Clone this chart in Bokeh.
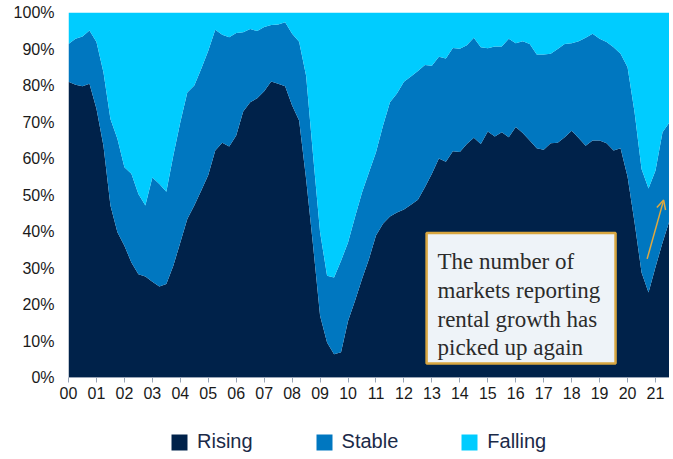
from bokeh.plotting import figure
from bokeh.layouts import column
from bokeh.models import (ColumnDataSource, Range1d, FixedTicker, PrintfTickFormatter,
                          Legend, LegendItem, BoxAnnotation, Label, Arrow, OpenHead)
from bokeh.embed import file_html
from bokeh.resources import INLINE

# quarterly observations, 2000 Q1 .. 2021 Q3
quarters = [2000 + i / 4 for i in range(87)]

rising = [81.0, 80.2, 79.8, 80.5, 73.6, 63.5, 47.1, 39.8, 36.1, 31.5, 28.3, 27.7, 26.2, 24.9, 25.6, 30.6,
          37.0, 43.4, 47.1, 51.2, 55.5, 62.2, 64.3, 63.3, 66.3, 72.9, 75.4, 76.5, 78.4, 81.1, 80.5, 79.8,
          74.5, 70.4, 54.4, 36.1, 16.9, 9.6, 6.4, 6.9, 15.5, 21.0, 27.0, 32.5, 38.9, 42.1, 44.1, 45.2,
          46.0, 47.3, 48.7, 52.1, 55.8, 60.0, 59.1, 62.0, 61.8, 64.0, 65.7, 64.0, 67.4, 66.0, 67.2, 65.8,
          68.6, 67.0, 64.9, 62.8, 62.4, 64.2, 64.3, 65.8, 67.6, 65.6, 63.5, 64.9, 64.9, 64.2, 62.2, 62.8,
          55.0, 42.5, 28.8, 23.3, 30.3, 36.9, 43.0]
stable = [10.4, 12.6, 13.6, 14.6, 18.3, 20.1, 23.7, 25.6, 21.5, 24.3, 22.0, 19.4, 28.6, 28.1, 25.3, 30.2,
          32.9, 34.7, 32.9, 33.4, 34.0, 33.1, 29.6, 29.9, 28.1, 21.7, 20.1, 18.4, 17.6, 15.5, 16.2, 17.5,
          19.7, 21.6, 28.3, 24.7, 22.9, 18.3, 21.0, 25.1, 21.5, 23.0, 23.7, 23.7, 22.8, 26.9, 31.3, 32.6,
          35.0, 35.2, 35.3, 33.5, 29.6, 27.9, 28.3, 28.3, 28.3, 27.0, 27.4, 26.5, 22.8, 24.7, 23.5, 27.0,
          23.0, 25.1, 26.5, 25.7, 26.1, 24.5, 25.7, 25.6, 24.0, 26.5, 29.6, 29.3, 27.9, 27.7, 28.3, 25.9,
          30.0, 30.2, 28.3, 28.5, 26.4, 30.3, 26.9]
falling = [8.6, 7.2, 6.6, 4.9, 8.1, 16.4, 29.2, 34.6, 42.4, 44.2, 49.7, 52.9, 45.2, 47.0, 49.1, 39.2,
           30.1, 21.9, 20.0, 15.4, 10.5, 4.7, 6.1, 6.8, 5.6, 5.4, 4.5, 5.1, 4.0, 3.4, 3.3, 2.7,
           5.8, 8.0, 17.3, 39.2, 60.2, 72.1, 72.6, 68.0, 63.0, 56.0, 49.3, 43.8, 38.3, 31.0, 24.6, 22.2,
           19.0, 17.5, 16.0, 14.4, 14.6, 12.1, 12.6, 9.7, 9.9, 9.0, 6.9, 9.5, 9.8, 9.3, 9.3, 7.2,
           8.4, 7.9, 8.6, 11.5, 11.5, 11.3, 10.0, 8.6, 8.4, 7.9, 6.9, 5.8, 7.2, 8.1, 9.5, 11.3,
           15.0, 27.3, 42.9, 48.2, 43.3, 32.8, 30.1]

series_names = ["Rising", "Stable", "Falling"]
series_colors = ["#00224A", "#0077C0", "#00CCFF"]
year_ticks = list(range(2000, 2022))
year_labels = {y: f"{y % 100:02d}" for y in year_ticks}
pct_ticks = list(range(0, 101, 10))

note_lines = ["The number of", "markets reporting", "rental growth has", "picked up again"]

source = ColumnDataSource(dict(x=quarters, Rising=rising, Stable=stable, Falling=falling))

p = figure(width=669, height=410, output_backend="svg", toolbar_location=None,
           x_range=Range1d(2000, 2021.5), y_range=Range1d(0, 100),
           min_border_left=68, min_border_right=0, min_border_top=12, min_border_bottom=33)
p.outline_line_color = None
p.grid.visible = False
p.background_fill_color = "white"

renderers = p.varea_stack(stackers=series_names, x="x", color=series_colors, source=source)

# axes
p.xaxis.ticker = FixedTicker(ticks=year_ticks)
p.xaxis.major_label_overrides = year_labels
p.xaxis.axis_line_color = "#98a4b6"
p.xaxis.major_tick_line_color = "#98a4b6"
p.xaxis.major_tick_in = 0
p.xaxis.major_tick_out = 5
p.xaxis.minor_tick_line_color = None
p.xaxis.major_label_standoff = 4
p.xaxis.major_label_text_font = "Liberation Sans"
p.xaxis.major_label_text_font_size = "16px"
p.xaxis.major_label_text_color = "#1a1a1a"

p.yaxis.ticker = FixedTicker(ticks=pct_ticks)
p.yaxis.formatter = PrintfTickFormatter(format="%d%%")
p.yaxis.axis_line_color = None
p.yaxis.major_tick_line_color = None
p.yaxis.minor_tick_line_color = None
p.yaxis.major_tick_in = 0
p.yaxis.major_tick_out = 0
p.yaxis.major_label_standoff = 14
p.yaxis.major_label_text_font = "Liberation Sans"
p.yaxis.major_label_text_font_size = "16px"
p.yaxis.major_label_text_color = "#1a1a1a"

# annotation box
box = BoxAnnotation(left=2012.81, right=2019.57, bottom=3.84, top=39.6,
                    fill_color="#EEF3F8", fill_alpha=1.0,
                    line_color="#D8A640", line_width=2.5, line_alpha=1.0)
p.add_layout(box)
for line, yb in zip(note_lines, [31.8, 23.8, 16.0, 8.2]):
    p.add_layout(Label(x=2013.2, y=yb, text=line, text_font="Liberation Serif",
                       text_font_size="23px", text_color="#2b2b2b", text_baseline="alphabetic"))

p.add_layout(Arrow(end=OpenHead(size=9, line_color="#E0A93E", line_width=1.5),
                   x_start=2020.70, y_start=32.5, x_end=2021.29, y_end=48.6,
                   line_color="#E0A93E", line_width=1.5))

# legend strip below the chart (its frame is aligned with the chart frame)
lg = figure(width=669, height=45, output_backend="svg", toolbar_location=None,
            x_range=Range1d(0, 601), y_range=Range1d(0, 45),
            min_border_left=68, min_border_right=0, min_border_top=0, min_border_bottom=0)
lg.axis.visible = False
lg.grid.visible = False
lg.outline_line_color = None
dummies = [lg.varea(x=[-20, -10], y1=[0, 0], y2=[1, 1], fill_color=c, fill_alpha=1.0)
           for c in series_colors]
legend = Legend(items=[LegendItem(label=n, renderers=[r]) for n, r in zip(series_names, dummies)],
                orientation="horizontal", location=(101, 2),
                glyph_width=20, glyph_height=20, label_standoff=8, spacing=61,
                padding=0, margin=0, border_line_color=None, background_fill_alpha=0,
                label_text_font="Liberation Sans", label_text_font_size="20px",
                label_text_color="#1b2a48")
lg.add_layout(legend, "center")

layout = column(p, lg, spacing=0)
open("out.html", "w").write(file_html(layout, INLINE))
